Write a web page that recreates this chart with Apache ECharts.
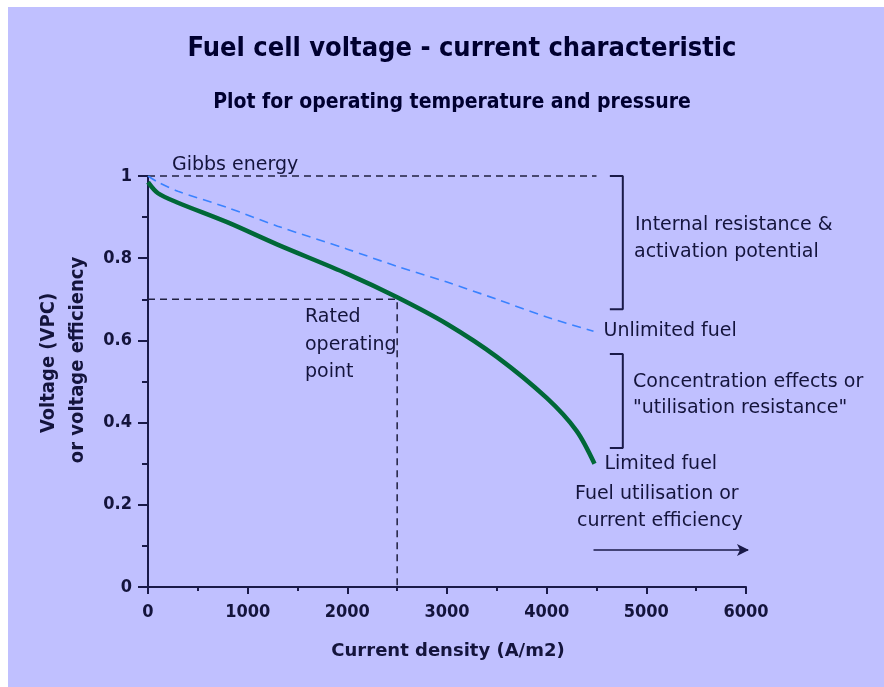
<!DOCTYPE html>
<html><head><meta charset="utf-8">
<script src="https://cdn.jsdelivr.net/npm/echarts/dist/echarts.min.js"></script>
<style>
html,body{margin:0;padding:0;background:#fff;}
#bg{position:absolute;left:8px;top:7px;width:876px;height:680px;background:#c0c0ff;}
#c{position:absolute;left:0;top:0;width:884px;height:687px;}
</style>
</head><body><div id="bg"></div><div id="c"></div>
<script>
// ---- data ----
const titleText = 'Fuel cell voltage - current characteristic';
const subtitleText = 'Plot for operating temperature and pressure';
const xAxisName = 'Current density (A/m2)';
const yAxisName1 = 'Voltage (VPC)';
const yAxisName2 = 'or voltage efficiency';

const unlimitedX = [0, 100, 300, 800, 1300, 2000, 2500, 3000, 3500, 4000, 4470];
const unlimitedY = [1.0, 0.985, 0.963, 0.923, 0.878, 0.822, 0.78, 0.742, 0.70, 0.657, 0.622];
const limitedX = [0, 100, 300, 800, 1300, 2000, 2500, 3000, 3500, 4000, 4300, 4480];
const limitedY = [0.985, 0.958, 0.935, 0.887, 0.833, 0.762, 0.705, 0.64, 0.56, 0.46, 0.38, 0.30];

const gibbsX = [0, 4500];
const gibbsY = [1, 1];
const ratedX = [0, 2500, 2500];
const ratedY = [0.7, 0.7, 0];
const bracket1X = [4634, 4764, 4764, 4634];
const bracket1Y = [1.0, 1.0, 0.676, 0.676];
const bracket2X = [4634, 4764, 4764, 4634];
const bracket2Y = [0.567, 0.567, 0.338, 0.338];
const arrowX = [4470, 6030];
const arrowY = [0.09, 0.09];

const xMin = 0, xMax = 6000, xStep = 1000;
const yMin = 0, yMax = 1, yStep = 0.2;

const notes = [
  {text: 'Gibbs energy', x: 172, y: 165},
  {text: 'Internal resistance &', x: 635, y: 225},
  {text: 'activation potential', x: 634, y: 252},
  {text: 'Concentration effects or', x: 633, y: 382},
  {text: '"utilisation resistance"', x: 633, y: 408},
  {text: 'Fuel utilisation or', x: 575, y: 494},
  {text: 'current efficiency', x: 577, y: 521},
  {text: 'Rated', x: 305, y: 317},
  {text: 'operating', x: 305, y: 345},
  {text: 'point', x: 305, y: 372}
];

// ---- styles ----
const ink = '#14143c';
const axisColor = '#1a1a48';
const noteSize = 19;
const noteFamily = 'DejaVu Sans';
const noteFont = noteSize + 'px "' + noteFamily + '"';
const tickFont = 'DejaVu Sans Condensed';

const zip = (a, b) => a.map((v, i) => [v, b[i]]);

const chart = echarts.init(document.getElementById('c'));

const axisCommon = {
  type: 'value',
  axisLine: {show: true, lineStyle: {color: axisColor, width: 2}},
  splitLine: {show: false},
  minorSplitLine: {show: false},
  axisLabel: {color: ink, fontFamily: tickFont, fontWeight: 'bold', fontSize: 18,
    formatter: v => String(v)}
};

const guide = (name, xs, ys, color, width, type) => ({
  type: 'line', name, data: zip(xs, ys), showSymbol: false, symbol: 'none',
  silent: true, clip: false,
  lineStyle: {color, width, type}, z: 3
});

const arrowData = zip(arrowX, arrowY).map((p, i) => i === arrowX.length - 1
  ? {value: p, symbol: 'arrow', symbolSize: [9, 12], symbolRotate: -90}
  : {value: p, symbol: 'none'});

chart.setOption({
  animation: false,
  backgroundColor: 'transparent',
  grid: {left: 148, right: 138, top: 176, bottom: 100},
  xAxis: Object.assign({}, axisCommon, {
    min: xMin, max: xMax, interval: xStep,
    axisTick: {show: true, length: 7, lineStyle: {color: axisColor, width: 2}},
    minorTick: {show: true, splitNumber: 2, length: 4, lineStyle: {color: axisColor, width: 2}},
    axisLabel: Object.assign({}, axisCommon.axisLabel, {margin: 16})
  }),
  yAxis: Object.assign({}, axisCommon, {
    min: yMin, max: yMax, interval: yStep,
    axisTick: {show: true, length: 10, lineStyle: {color: axisColor, width: 2}},
    minorTick: {show: true, splitNumber: 2, length: 6, lineStyle: {color: axisColor, width: 2}},
    axisLabel: Object.assign({}, axisCommon.axisLabel, {margin: 16})
  }),
  series: [
    guide('Gibbs', gibbsX, gibbsY, '#202040', 1.5, [7, 5]),
    guide('Rated', ratedX, ratedY, '#202040', 1.5, [7, 5]),
    guide('Bracket1', bracket1X, bracket1Y, axisColor, 2, 'solid'),
    guide('Bracket2', bracket2X, bracket2Y, axisColor, 2, 'solid'),
    {
      type: 'line', name: 'Unlimited fuel', data: zip(unlimitedX, unlimitedY),
      smooth: 0.3, showSymbol: false, symbol: 'none',
      lineStyle: {color: '#3a82ff', width: 1.6, type: [9, 6]}, z: 4,
      endLabel: {show: true, formatter: 'Unlimited fuel', distance: 10,
        color: ink, fontFamily: noteFamily, fontSize: noteSize}
    },
    {
      type: 'line', name: 'Limited fuel', data: zip(limitedX, limitedY),
      smooth: 0.3, showSymbol: false, symbol: 'none',
      lineStyle: {color: '#006838', width: 4.5}, z: 5,
      endLabel: {show: true, formatter: 'Limited fuel', distance: 10,
        color: ink, fontFamily: noteFamily, fontSize: noteSize}
    },
    {
      type: 'line', name: 'Arrow', data: arrowData, clip: false,
      showSymbol: true, symbol: 'none', silent: true,
      itemStyle: {color: axisColor},
      lineStyle: {color: axisColor, width: 1.5}, z: 3
    }
  ],
  graphic: [
    {type: 'text', x: 462, y: 49, style: {text: titleText, align: 'center', verticalAlign: 'middle',
      font: 'bold 27px "DejaVu Sans Condensed"', fill: '#000030'}},
    {type: 'text', x: 452, y: 103, style: {text: subtitleText, align: 'center', verticalAlign: 'middle',
      font: 'bold 21px "DejaVu Sans Condensed"', fill: '#000030'}},
    {type: 'text', x: 448, y: 651, style: {text: xAxisName, align: 'center', verticalAlign: 'middle',
      font: 'bold 18px "DejaVu Sans"', fill: ink}},
    {type: 'text', x: 49, y: 363, rotation: Math.PI / 2, style: {text: yAxisName1, align: 'center', verticalAlign: 'middle',
      font: 'bold 20px "DejaVu Sans Condensed"', fill: ink}},
    {type: 'text', x: 78, y: 360, rotation: Math.PI / 2, style: {text: yAxisName2, align: 'center', verticalAlign: 'middle',
      font: 'bold 20px "DejaVu Sans Condensed"', fill: ink}}
  ].concat(notes.map(n => ({
    type: 'text', x: n.x, y: n.y,
    style: {text: n.text, align: 'left', verticalAlign: 'middle', font: noteFont, fill: ink}
  })))
});
</script>
</body></html>
